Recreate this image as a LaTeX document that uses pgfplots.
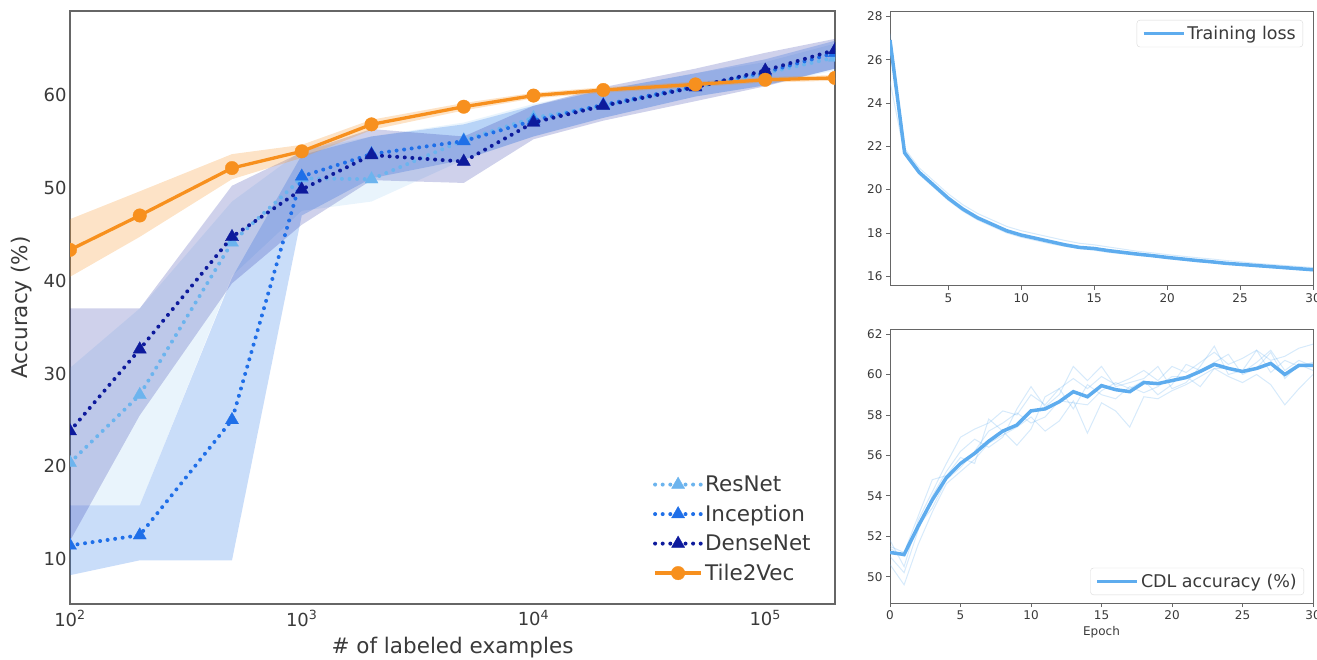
\documentclass[border=0pt]{standalone}
\usepackage{fontspec}
\setmainfont{DejaVu Sans}
\usepackage{pgfplots}
\usepackage{pgfplotstable}
\usepgfplotslibrary{fillbetween}
\pgfplotsset{compat=1.18}

\definecolor{resC}{HTML}{6CB4EE}
\definecolor{incC}{HTML}{1F6FE8}
\definecolor{denC}{HTML}{0D1A9C}
\definecolor{t2vC}{HTML}{F7901E}
\definecolor{cdlC}{HTML}{5EACEE}
\definecolor{frameC}{HTML}{666666}
\definecolor{txtC}{HTML}{3A3A3A}

% labeled examples, mean accuracy, min and max over runs
\pgfplotstableread{
x      mean lo   hi
100    20.4 15.8 30.6
200    27.7 15.8 37.0
500    44.1 40.5 48.5
1000   51.0 47.5 54.0
2000   50.9 48.5 55.5
5000   55.1 53.0 57.0
10000  57.5 55.5 59.0
20000  58.8 57.5 60.5
50000  60.8 59.8 62.3
100000 62.3 61.0 63.5
200000 64.0 62.6 65.5
}\resnet
\pgfplotstableread{
x      mean lo   hi
100    11.5 8.3  15.8
200    12.6 9.9  15.8
500    25.0 9.9  40.3
1000   51.2 47.0 53.5
2000   53.6 51.0 55.5
5000   55.0 53.0 56.8
10000  57.2 55.5 58.8
20000  58.9 57.5 60.5
50000  60.9 59.8 62.3
100000 62.4 61.0 63.8
200000 64.5 62.8 65.8
}\inception
\pgfplotstableread{
x      mean lo   hi
100    23.8 12.0 37.0
200    32.6 25.5 37.0
500    44.7 39.7 50.2
1000   49.8 46.0 53.8
2000   53.5 50.8 56.3
5000   52.8 50.5 55.5
10000  57.0 55.2 58.8
20000  58.8 57.2 60.8
50000  60.8 59.3 62.8
100000 62.6 60.9 64.5
200000 64.8 62.8 66.0
}\densenet
\pgfplotstableread{
x      mean lo   hi
100    43.3 40.4 46.6
200    47.0 44.7 49.6
500    52.1 50.9 53.6
1000   53.9 53.2 54.6
2000   56.8 56.2 57.3
5000   58.7 58.3 59.1
10000  59.9 59.6 60.2
20000  60.5 60.2 60.8
50000  61.1 60.8 61.4
100000 61.6 61.3 61.9
200000 61.8 61.5 62.1
}\tilevec

% training loss per epoch: mean and two single runs
\pgfplotstableread{
ep  mean  ra    rb
1   26.9  27.2  25.0
2   21.7  21.9  21.6
3   20.8  21.0  20.7
4   20.2  20.4  20.1
5   19.6  19.8  19.5
6   19.1  19.3  19.0
7   18.7  18.9  18.6
8   18.4  18.6  18.3
9   18.1  18.3  18.0
10  17.9  18.1  17.8
11  17.75 17.95 17.65
12  17.6  17.8  17.5
13  17.45 17.65 17.38
14  17.33 17.52 17.28
15  17.28 17.45 17.2
16  17.18 17.35 17.1
17  17.1  17.25 17.03
18  17.02 17.15 16.96
19  16.95 17.08 16.9
20  16.87 17.0  16.82
21  16.8  16.93 16.75
22  16.73 16.86 16.68
23  16.67 16.8  16.62
24  16.6  16.73 16.56
25  16.55 16.67 16.5
26  16.5  16.6  16.45
27  16.45 16.55 16.4
28  16.4  16.5  16.35
29  16.35 16.45 16.3
30  16.3  16.4  16.25
}\loss

% CDL accuracy per epoch: mean and single runs
\pgfplotstableread{
ep mean  r1   r2   r3   r4   r5
0  51.2  51.8 50.6 51.5 51.0 51.4
1  51.1  50.5 49.6 51.2 50.2 51.0
2  52.5  52.8 51.6 53.0 52.3 52.5
3  53.8  54.2 53.2 54.8 54.0 53.4
4  54.9  55.6 54.6 55.0 55.2 54.8
5  55.6  56.9 55.2 55.9 56.2 55.4
6  56.1  57.3 55.8 55.6 56.8 56.2
7  56.7  57.6 56.6 57.8 56.4 57.2
8  57.2  58.2 57.0 57.2 56.9 57.6
9  57.5  58.0 57.4 56.5 58.3 58.1
10 58.2  59.0 57.9 57.3 59.4 57.6
11 58.3  58.5 57.2 58.9 58.4 57.9
12 58.65 59.3 57.7 59.3 59.0 58.7
13 59.15 59.8 58.7 58.3 60.4 58.6
14 58.9  59.3 57.1 59.5 59.7 58.5
15 59.45 59.9 58.6 59.0 60.4 59.2
16 59.25 59.5 58.2 58.8 59.4 59.6
17 59.15 59.8 57.4 59.4 59.6 59.3
18 59.6  60.2 58.9 59.1 59.8 59.7
19 59.55 59.7 58.8 59.4 60.4 59.0
20 59.7  60.4 59.2 59.9 59.3 59.5
21 59.85 60.1 59.5 59.9 59.6 60.5
22 60.15 60.6 59.9 59.4 60.4 60.2
23 60.5  61.1 60.3 60.3 61.4 60.6
24 60.3  60.5 59.9 60.3 60.0 61.0
25 60.15 60.8 59.6 60.1 60.2 60.0
26 60.3  61.2 60.0 60.6 61.2 60.3
27 60.55 60.7 59.5 61.2 60.1 61.1
28 60.0  60.9 58.5 60.2 60.7 59.8
29 60.45 61.3 59.3 60.7 60.4 60.5
30 60.45 61.5 60.0 60.4 60.6 60.2
}\cdl

\pgfplotsset{
  dotline/.style={color=#1, line width=4pt, dash pattern=on 0pt off 7.6pt,
    line cap=round, mark=triangle*, mark size=7.6pt,
    mark options={solid, fill=#1, draw=#1, line width=0.3pt}},
  smallaxis/.style={
    anchor=south west, scale only axis, width=423pt, height=274pt,
    axis line style={frameC, line width=1pt},
    tick align=outside, major tick length=4pt,
    tick style={frameC, line width=0.8pt},
    xtick pos=left, ytick pos=left,
    tick label style={font=\fontsize{12}{14}\selectfont, text=txtC},
    /pgf/number format/assume math mode=true,
    legend style={draw=black!15, rounded corners=3pt, fill=white,
      font=\fontsize{17.5}{20}\selectfont, text=txtC,
      inner xsep=5pt, inner ysep=4pt},
    legend image code/.code={\draw[##1] plot coordinates {(0pt,0pt) (40pt,0pt)};},
  },
}

\begin{document}
\begin{tikzpicture}

\begin{axis}[
  at={(70pt,55pt)}, anchor=south west, scale only axis,
  width=765pt, height=593pt,
  xmode=log, xmin=100, xmax=200000, ymin=5.2, ymax=69,
  xtick={100,1000,10000,100000},
  xticklabels={10\textsuperscript{2},10\textsuperscript{3},10\textsuperscript{4},10\textsuperscript{5}},
  minor tick num=0,
  ytick={10,20,30,40,50,60},
  major tick length=0pt, minor tick length=0pt,
  axis line style={frameC, line width=1.3pt},
  tick label style={font=\fontsize{18}{20}\selectfont, text=txtC},
  xticklabel style={yshift=-3pt},
  /pgf/number format/assume math mode=true,
  xlabel={\# of labeled examples}, ylabel={Accuracy (\%)},
  label style={font=\fontsize{21.5}{24}\selectfont, text=txtC},
  xlabel style={at={(axis description cs:0.5,-0.05)}, anchor=north},
  ylabel style={at={(axis description cs:-0.045,0.5)}, anchor=south},
  clip marker paths=true,
  legend style={draw=none, fill=none, at={(0.975,0.03)}, anchor=south east,
    font=\fontsize{21.5}{24}\selectfont, text=txtC, row sep=8pt,
    /tikz/every even column/.append style={column sep=14pt}},
  legend cell align=left,
  legend image code/.code={\draw[mark repeat=2,mark phase=2,#1] plot coordinates {(0pt,0pt) (23pt,0pt) (46pt,0pt)};},
]
% spread bands
\addplot[draw=none, name path=rl, forget plot] table[x=x,y=lo]{\resnet};
\addplot[draw=none, name path=ru, forget plot] table[x=x,y=hi]{\resnet};
\addplot[fill=resC, fill opacity=0.15, draw=none, forget plot] fill between[of=rl and ru];
\addplot[draw=none, name path=il, forget plot] table[x=x,y=lo]{\inception};
\addplot[draw=none, name path=iu, forget plot] table[x=x,y=hi]{\inception};
\addplot[fill=incC, fill opacity=0.24, draw=none, forget plot] fill between[of=il and iu];
\addplot[draw=none, name path=dl, forget plot] table[x=x,y=lo]{\densenet};
\addplot[draw=none, name path=du, forget plot] table[x=x,y=hi]{\densenet};
\addplot[fill=denC, fill opacity=0.2, draw=none, forget plot] fill between[of=dl and du];
\addplot[draw=none, name path=tl, forget plot] table[x=x,y=lo]{\tilevec};
\addplot[draw=none, name path=tu, forget plot] table[x=x,y=hi]{\tilevec};
\addplot[fill=t2vC, fill opacity=0.25, draw=none, forget plot] fill between[of=tl and tu];
% mean curves
\addplot[dotline=resC] table[x=x,y=mean]{\resnet};
\addlegendentry{ResNet}
\addplot[dotline=incC] table[x=x,y=mean]{\inception};
\addlegendentry{Inception}
\addplot[dotline=denC] table[x=x,y=mean]{\densenet};
\addlegendentry{DenseNet}
\addplot[color=t2vC, line width=3.3pt, mark=*, mark size=6.8pt,
  mark options={fill=t2vC, draw=t2vC, line width=0.3pt}] table[x=x,y=mean]{\tilevec};
\addlegendentry{Tile2Vec}
\end{axis}

\begin{axis}[smallaxis,
  at={(890pt,373pt)},
  xmin=1, xmax=30, ymin=15.55, ymax=28.2,
  xtick={5,10,15,20,25,30}, ytick={16,18,20,22,24,26,28},
  legend style={at={(1,1)}, anchor=north east, xshift=-10pt, yshift=-8pt},
]
\addplot[cdlC, opacity=0.25, line width=1pt, forget plot] table[x=ep,y=ra]{\loss};
\addplot[cdlC, opacity=0.25, line width=1pt, forget plot] table[x=ep,y=rb]{\loss};
\addplot[cdlC, line width=3.5pt] table[x=ep,y=mean]{\loss};
\addlegendentry{Training loss}
\end{axis}

\begin{axis}[smallaxis,
  at={(890pt,56pt)},
  xmin=0, xmax=30, ymin=48.7, ymax=62.25,
  xtick={0,5,10,15,20,25,30}, ytick={50,52,54,56,58,60,62},
  xlabel={Epoch},
  xlabel style={font=\fontsize{12}{14}\selectfont, text=txtC, yshift=0pt},
  legend style={at={(1,0)}, anchor=south east, xshift=-9pt, yshift=8pt},
]
\addplot[cdlC, opacity=0.25, line width=1pt, forget plot] table[x=ep,y=r1]{\cdl};
\addplot[cdlC, opacity=0.25, line width=1pt, forget plot] table[x=ep,y=r2]{\cdl};
\addplot[cdlC, opacity=0.25, line width=1pt, forget plot] table[x=ep,y=r3]{\cdl};
\addplot[cdlC, opacity=0.25, line width=1pt, forget plot] table[x=ep,y=r4]{\cdl};
\addplot[cdlC, opacity=0.25, line width=1pt, forget plot] table[x=ep,y=r5]{\cdl};
\addplot[cdlC, line width=3.5pt] table[x=ep,y=mean]{\cdl};
\addlegendentry{CDL accuracy (\%)}
\end{axis}

\pgfresetboundingbox
\path (0pt,0pt) rectangle (1317pt,659pt);
\end{tikzpicture}
\end{document}
